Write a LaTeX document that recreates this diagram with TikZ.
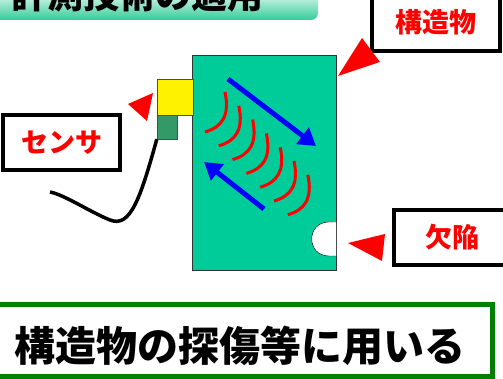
\documentclass[tikz,border=0pt]{standalone}
\usepackage{fontspec}
\newfontfamily\jp{Noto Sans CJK JP}
\usetikzlibrary{arrows.meta}
\definecolor{struct}{HTML}{00CC99}
\definecolor{probe}{HTML}{339966}
\definecolor{band}{HTML}{33CC99}
\definecolor{frame}{HTML}{008000}

\begin{document}
\begin{tikzpicture}[x=1pt, y=-1pt,
		lbl/.style={draw, line width=3.5pt, fill=white, text=red, font=\jp\bfseries\fontsize{27}{27}\selectfont, inner sep=0pt},
		wave/.style={draw=red, line width=3pt},
		beam/.style={draw=blue, line width=5pt, -{Triangle[length=17pt, width=20pt]}},
		pointer/.style={fill=red}]
		\useasboundingbox (0,0) rectangle (503,379);

		%title band
		\shade[top color=white, bottom color=band] (0,-12) -- (318,-12) [rounded corners=7] -- (318,20) [sharp corners] -- (0,20) -- cycle;
		\node (title) at (8,9) [anchor=base west, font=\jp\bfseries\fontsize{36}{36}\selectfont]{計測技術の適用};

		%structure with defect
		\node (body) at (264,163) [draw=black!80, fill=struct, minimum width=144pt, minimum height=215pt, inner sep=0pt]{};
		\draw[fill=white] (body.east |- 0,222) -- (329,222) .. controls (306,222) and (306,256) .. (329,256) -- (body.east |- 0,256);
		\coordinate (notch) at (312,239);

		%sensor head and cable
		\node (head) at (175,97) [draw=black!70, fill=yellow, minimum width=36pt, minimum height=36pt, inner sep=0pt]{};
		\node (tip) at (167,127) [draw=black!70, fill=probe, minimum width=20pt, minimum height=24pt, inner sep=0pt]{};
		\coordinate (cableend) at (50,192);
		\draw[line width=3.5pt] (tip.south west) .. controls (140,200) and (130,228) .. (110,220) .. controls (90,212) and (65,195) .. (cableend);

		%ultrasonic waves
		\foreach \i in {0,1,...,6}{
			\draw[wave, shift={(13.8*\i,13.8*\i)}] (225,92) .. controls (230,116) and (222,127) .. (205,132);
		}
		\coordinate (b1s) at (228,79);
		\coordinate (b1e) at (316,146);
		\coordinate (b2s) at (264,209);
		\coordinate (b2e) at (204,162);
		\draw[beam] (b1s) -- (b1e);
		\draw[beam] (b2s) -- (b2e);

		%labels
		\node (lstruct) at (436,22) [lbl, minimum width=128pt, minimum height=58pt]{構造物};
		\node (lsensor) at (61.5,142.5) [lbl, minimum width=117pt, minimum height=55pt]{センサ};
		\node (ldefect) at (452,237.5) [lbl, minimum width=116pt, minimum height=55pt]{欠陥};

		\fill[pointer] (338,76) -- (362,38) -- (380,62) -- cycle;
		\fill[pointer] (128,104) -- (153,93) -- (147,121) -- cycle;
		\fill[pointer] (348,243) -- (385,234) -- (382,261) -- cycle;

		%usage
		\node (use) at (244,340) [draw=frame, line width=5pt, fill=white, minimum width=496pt, minimum height=72pt]{};
		\node (usetext) at (240,346) [font=\jp\bfseries\fontsize{41}{41}\selectfont]{構造物の探傷等に用いる};
\end{tikzpicture}
\end{document}
